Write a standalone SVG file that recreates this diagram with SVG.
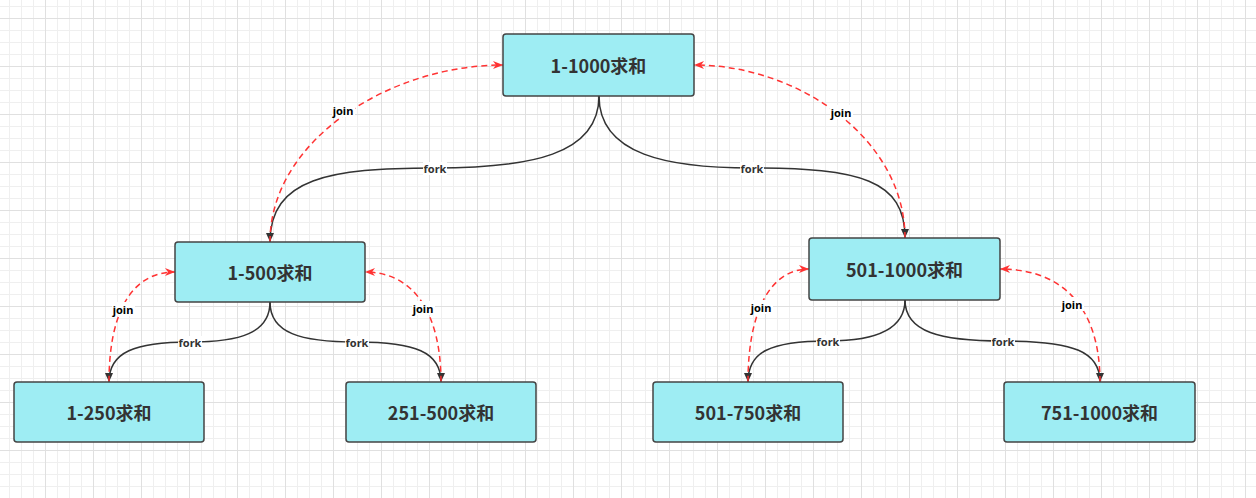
<svg xmlns="http://www.w3.org/2000/svg" width="1256" height="498" viewBox="0 0 1256 498">
<defs>
<style>
.node rect{fill:#9eedf3;stroke:#444;stroke-width:1.5}
.node text{font-family:"Noto Sans CJK SC","Noto Sans",sans-serif;font-weight:bold;font-size:18px;fill:#333;text-anchor:middle;dominant-baseline:central}
.fork{fill:none;stroke:#333;stroke-width:1.5;marker-end:url(#ad)}
.join{fill:none;stroke:#ff3333;stroke-width:1.5;stroke-dasharray:6 4;marker-end:url(#ar)}
.lbg{fill:#fff}
.lbl{font-family:"Noto Sans",sans-serif;font-weight:bold;font-size:11px;text-anchor:middle;dominant-baseline:central}
.lf{fill:#333}
.lj{fill:#000}
</style>
<pattern id="grid" patternUnits="userSpaceOnUse" x="45" y="18" width="48" height="48">
<path d="M12.5,0V48M24.5,0V48M36.5,0V48M0,12.5H48M0,24.5H48M0,36.5H48" stroke="#efefef" stroke-width="1" fill="none"/>
<path d="M0.5,0V48M0,0.5H48" stroke="#e0e0e0" stroke-width="1" fill="none"/>
</pattern>
<marker id="ad" viewBox="0 0 9 9" markerWidth="9" markerHeight="9" refX="9" refY="4.5" orient="auto" markerUnits="userSpaceOnUse">
<path d="M0,0.5L9,4.5L0,8.5z" fill="#333"/>
</marker>
<marker id="ar" viewBox="0 0 10 8" markerWidth="10" markerHeight="8" refX="10" refY="4" orient="auto" markerUnits="userSpaceOnUse">
<path d="M0,0L10,4L0,8L3,4z" fill="#ff3333"/>
</marker>
</defs>
<rect width="1256" height="498" fill="#fff"/>
<rect width="1256" height="498" fill="url(#grid)"/>

<g id="connectors">
<path class="fork" d="M599,96C599,155 530,168 434,168C330,168 270,178 270,242"/>
<path class="fork" d="M599,96C599,155 668,168 752,168C860,168 905,180 905,238"/>
<path class="fork" d="M270,302C270,333 240,342 190,342C135,342 109,352 109,382"/>
<path class="fork" d="M270,302C270,333 300,342 357,342C415,342 441,352 441,382"/>
<path class="fork" d="M905,300C905,332 870,341 828,341C770,341 748,352 748,382"/>
<path class="fork" d="M905,300C905,332 940,341 1003,341C1075,341 1100,352 1100,382"/>
<path class="join" d="M270,242C270,140 390,65 503,65"/>
<path class="join" d="M905,238C905,140 800,65 694,65"/>
<path class="join" d="M109,382C109,315 130,272 175,272"/>
<path class="join" d="M441,382C441,315 415,272 365,272"/>
<path class="join" d="M748,382C748,312 770,269 809,269"/>
<path class="join" d="M1100,382C1100,310 1065,269 1000,269"/>
<g id="labels">
<rect class="lbg" x="423" y="162" width="24" height="13"/><text class="lbl lf" x="435" y="168.5">fork</text>
<rect class="lbg" x="740" y="162" width="24" height="13"/><text class="lbl lf" x="752" y="168">fork</text>
<rect class="lbg" x="178" y="336" width="24" height="13"/><text class="lbl lf" x="190" y="342.5">fork</text>
<rect class="lbg" x="345" y="336" width="24" height="13"/><text class="lbl lf" x="357" y="342.5">fork</text>
<rect class="lbg" x="816" y="335" width="24" height="13"/><text class="lbl lf" x="828" y="341.5">fork</text>
<rect class="lbg" x="991" y="335" width="24" height="13"/><text class="lbl lf" x="1003" y="341.5">fork</text>
<rect class="lbg" x="332" y="103" width="23" height="14"/><text class="lbl lj" x="343" y="110">join</text>
<rect class="lbg" x="830" y="105" width="23" height="14"/><text class="lbl lj" x="841" y="112">join</text>
<rect class="lbg" x="112" y="302" width="23" height="14"/><text class="lbl lj" x="123" y="309">join</text>
<rect class="lbg" x="412" y="301" width="23" height="14"/><text class="lbl lj" x="423" y="308">join</text>
<rect class="lbg" x="750" y="300" width="23" height="14"/><text class="lbl lj" x="761" y="307">join</text>
<rect class="lbg" x="1061" y="297" width="23" height="14"/><text class="lbl lj" x="1072" y="304">join</text>
</g>
</g>

<g id="n-1-1000" class="node"><rect x="503" y="34" width="191" height="62" rx="3"/><text x="598.5" y="65">1-1000求和</text></g>
<g id="n-1-500" class="node"><rect x="175" y="242" width="190" height="60" rx="3"/><text x="270" y="272">1-500求和</text></g>
<g id="n-501-1000" class="node"><rect x="809" y="238" width="191" height="62" rx="3"/><text x="904.5" y="269">501-1000求和</text></g>
<g id="n-1-250" class="node"><rect x="14" y="382" width="190" height="60" rx="3"/><text x="109" y="412">1-250求和</text></g>
<g id="n-251-500" class="node"><rect x="346" y="382" width="190" height="60" rx="3"/><text x="441" y="412">251-500求和</text></g>
<g id="n-501-750" class="node"><rect x="653" y="382" width="190" height="60" rx="3"/><text x="748" y="412">501-750求和</text></g>
<g id="n-751-1000" class="node"><rect x="1004" y="382" width="191" height="60" rx="3"/><text x="1099.5" y="412">751-1000求和</text></g>
</svg>
